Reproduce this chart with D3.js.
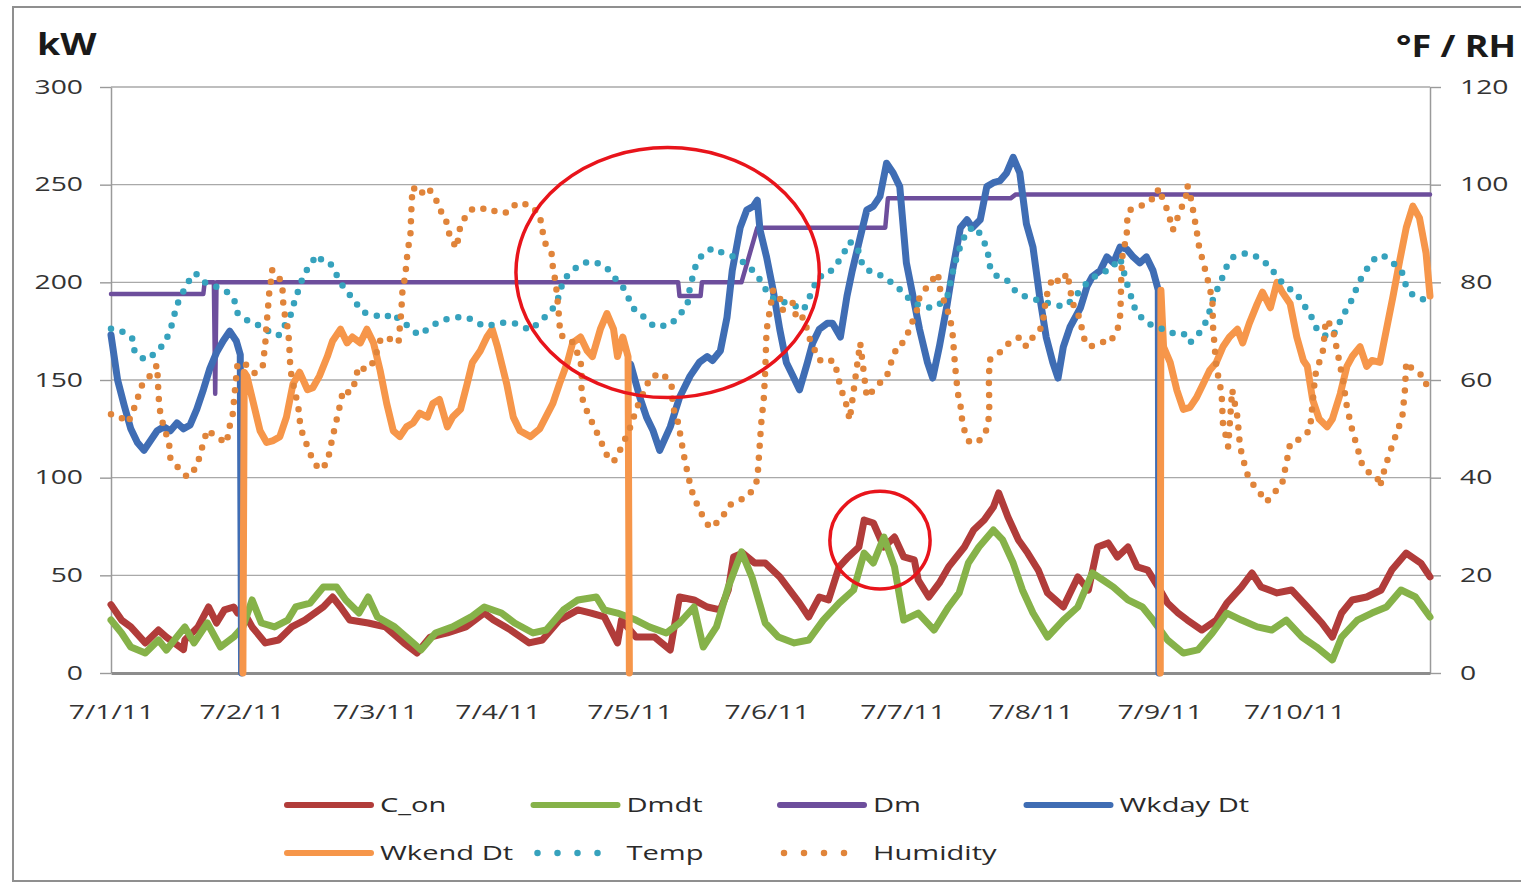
<!DOCTYPE html>
<html><head><meta charset="utf-8">
<script src="https://cdn.jsdelivr.net/npm/d3@7"></script>
<style>body{margin:0;background:#fff;overflow:hidden}text{font-family:"Open Sans",sans-serif}</style>
</head><body><svg id="c" width="1521" height="885"></svg>
<script>
// ---------- data ----------
const dayLabels = ["7/1/11","7/2/11","7/3/11","7/4/11","7/5/11","7/6/11","7/7/11","7/8/11","7/9/11","7/10/11"];
const dayIndex  = [0, 99, 200, 293, 393, 497, 600, 697, 795, 897];   // sample index where each day's label sits
const leftTicks  = [0, 50, 100, 150, 200, 250, 300];
const rightTicks = [0, 20, 40, 60, 80, 100, 120];
const seriesNames = ["C_on","Dmdt","Dm","Wkday Dt","Wkend Dt","Temp","Humidity"];

// [sample index, kW]
const cOn = [[0,35],[8,27.1],[15,23.6],[26,15.4],[36,22],[42,18.4],[55,12],[56,16.9],[66,23.6],[74,33.8],[80,25.6],[86,32.3],[93,33.8],[96,30.7],[100,32],
[107,23.6],[117,15.4],[127,16.9],[137,23.6],[147,27.1],[161,33.8],[168,38.9],[174,33.8],[181,27.1],[195,25.6],[208,23.6],[222,15.4],[232,10.2],[242,18.4],
[255,20.5],[269,23.6],[283,30.7],[290,27.1],[303,22],[317,15.4],[327,16.9],[340,27.1],[354,32.3],[364,30.7],[374,28.7],[384,15.4],[387,27.1],[398,18.4],
[412,18.4],[424,11.8],[431,38.9],[442,37.4],[452,33.8],[462,32.3],[468,42.5],[472,59.4],[479,61.4],[488,56.3],[496,56.3],[507,49.2],[522,35.8],[529,28.7],
[537,38.9],[544,37.4],[552,54.3],[559,59.4],[567,64.5],[571,78.3],[578,76.8],[586,64.5],[594,69.6],[601,59.4],[609,57.9],[612,47.6],[620,38.9],[628,46.1],
[635,54.3],[647,64.5],[654,73.2],[662,78.3],[669,85],[673,92.2],[680,79.9],[688,68.1],[695,61.4],[703,52.7],[710,41],[722,33.8],[733,49.2],[741,42.5],
[748,64.5],[756,66.6],[763,59.4],[771,64.5],[778,54.3],[786,52.7],[794,44],[801,35.8],[809,30.7],[816,27.1],[827,22],[838,27.1],[846,35.8],[857,44],
[865,51.2],[872,44],[884,41],[895,42.5],[907,33.8],[918,25.6],[926,18.4],[933,30.7],[941,37.4],[952,38.9],[963,42.5],[971,52.7],[982,61.4],[993,56.3],[1000,49.2]];

const dmdt = [[0,27.1],[8,20.5],[15,13.3],[26,10.2],[36,16.9],[42,11.8],[56,23.6],[63,15.4],[73,25.6],[83,13.3],[93,18.4],[100,23.6],[107,37.4],[114,25.6],
[124,23.6],[134,27.1],[140,33.8],[151,35.8],[161,44],[171,44],[178,37.4],[188,30.7],[195,38.9],[202,28.7],[215,23.6],[229,15.4],[235,11.8],[246,20.5],
[259,23.6],[273,28.7],[283,33.8],[296,30.7],[306,25.6],[320,20.5],[330,22],[343,32.3],[354,37.4],[368,38.9],[374,32.3],[384,30.7],[398,27.1],[408,23.6],
[421,20.5],[431,25.6],[442,33.8],[449,13.3],[459,23.6],[468,44],[478,62],[486,49],[496,25.6],[506,18.4],[518,15.4],[529,16.9],[540,27.1],[552,35.8],
[563,42.5],[571,61.4],[578,56.3],[586,69.6],[594,54.3],[601,27.1],[612,30.7],[624,22],[635,33.8],[643,41],[650,56.3],[658,64.5],[669,73.2],[676,68.1],
[684,56.3],[691,42.5],[699,30.7],[710,18.4],[722,27.1],[733,33.8],[744,51.2],[752,47.6],[760,44],[771,37.4],[782,33.8],[790,27.1],[801,16.9],[813,10.2],
[824,11.8],[835,20.5],[846,30.7],[857,27.1],[869,23.6],[880,22],[891,27.1],[903,18.4],[914,13.3],[926,6.7],[933,18.4],[945,27.1],[956,30.7],[967,33.8],
[978,42.5],[989,38.9],[1000,28.7]];

const dm = [[0,194],[70,194],[71,200],[78,200],[79,143],[80,200],[430,200],[431,193],[447,193],[448,200],[478,200],[490,228],[587,228],[589,243],[682,243],[686,245],[1000,245]];

// null = no data (gap)
const wkdayDt = [[0,173],[5,150],[10,137],[15,125],[20,118],[25,114],[30,119],[35,124],[40,126],[45,124],[50,128],[55,125],[60,127],[65,135],[70,145],
[75,156],[80,164],[85,170],[90,175],[95,170],[98,163],[99,0], null,
[394,158],[401,141],[406,131],[411,124],[416,114],[424,126],[431,141],[439,152],[446,159],[452,162],[456,160],[462,165],[467,182],[471,206],[477,228],
[482,237],[487,239],[490,242],[492,227],[497,213],[502,196],[507,176],[512,159],[517,152],[522,145],[528,159],[532,169],[537,176],[543,179],[547,179],
[553,172],[558,193],[562,206],[568,223],[573,237],[578,239],[583,244],[588,261],[593,256],[598,249],[603,210],[608,193],[613,176],[619,159],[623,151],
[628,167],[634,189],[638,206],[644,228],[649,232],[653,228],[659,232],[664,249],[669,251],[674,252],[679,256],[684,264],[689,256],[694,230],[699,218],
[704,193],[709,172],[714,159],[718,151],[722,167],[727,177],[735,187],[740,198],[744,203],[750,206],[755,213],[760,210],[765,218],[770,217],[775,213],
[780,210],[785,213],[790,206],[794,196],[794.5,0]];

const wkendDt = [[100,0],[101,154],[103,152],[108,138],[113,124],[118,118],[123,119],[128,121],[133,131],[138,148],[143,154],[149,145],[153,146],[158,152],
[164,162],[168,170],[174,176],[179,169],[183,172],[189,169],[194,176],[199,169],[204,155],[209,138],[214,124],[219,121],[224,126],[229,128],[234,133],
[240,131],[244,138],[249,140],[255,126],[259,131],[265,135],[270,148],[274,159],[280,165],[285,172],[289,176],[293,167],[300,148],[305,131],[310,124],
[318,121],[325,125],[335,138],[340,148],[346,159],[350,169],[356,172],[361,165],[365,162],[371,176],[376,184],[381,176],[384,162],[388,172],[392,162],[393,0], null,
[795.5,0],[796,196],[798,167],[803,159],[808,145],[813,135],[818,136],[823,141],[828,148],[833,155],[838,159],[843,167],[848,172],[854,176],[858,169],
[863,179],[869,189],[873,195],[879,187],[884,200],[888,195],[894,189],[899,172],[904,160],[907,157],[911,140],[916,130],[922,126],[926,130],[932,143],
[937,157],[941,162],[947,167],[952,157],[956,160],[962,159],[967,176],[972,193],[977,211],[982,228],[987,239],[992,233],[997,215],[1000,193]];

// [sample index, °F]
const temp = [[0,70.5],[7,70.2],[16,68.6],[18,65.7],[26,64.1],[35,65.7],[41,67.8],[45,70.2],[50,75.4],[58,79.9],[64,81.9],[70,80.1],[77,79.5],[88,78],[94,76],
[96,73.7],[105,71.9],[115,70.9],[123,69.2],[128,69.2],[132,71.3],[137,73.7],[139,76],[143,79.1],[146,81.5],[151,83.6],[156,85.6],[161,84.2],[166,84],
[170,82.1],[174,79.9],[180,77.8],[191,73.9],[199,73.3],[208,72.7],[213,73.7],[219,72.3],[227,70.7],[233,69.2],[242,70.7],[248,71.9],[257,72.7],[265,72.9],
[270,72.9],[277,71.7],[285,70.9],[293,71.7],[305,71.7],[318,70.2],[325,71.9],[333,73.9],[338,75.8],[343,80.5],[350,82.5],[358,84],[367,84.2],[376,82.9],
[382,80.9],[388,79.1],[397,74.3],[405,72.7],[412,70.9],[424,71.3],[431,73.3],[437,75.4],[439,79.1],[443,83.1],[448,85.6],[456,87],[464,86],[475,85],
[482,83.6],[490,81.5],[494,79.5],[500,77],[505,76.4],[512,75.8],[520,75],[525,74.3],[531,77.8],[536,81.1],[543,81.5],[550,83.6],[556,86.2],[560,88.3],
[566,87.2],[568,84.6],[573,82.5],[579,82.1],[587,80.9],[596,79.1],[608,75.8],[619,74.8],[626,75],[634,77],[638,81.9],[642,86],[649,90.7],[656,91.3],
[661,88.7],[665,86.6],[665,84],[670,81.5],[679,80.5],[687,77.8],[694,77],[702,76.4],[710,75.8],[722,75],[729,76.4],[737,79.1],[744,80.9],[750,81.9],
[757,82.5],[765,85],[770,80],[777,74],[785,71.7],[795,70.7],[803,69.6],[813,69.6],[818,67.6],[825,69.6],[831,72.3],[836,77],[841,79.9],[847,84],
[851,85.2],[861,86],[871,85],[879,83.1],[884,81.1],[891,79.1],[899,77.8],[903,75.8],[909,73.7],[913,70.9],[919,69.2],[926,68.8],[930,70.9],[934,73.3],
[939,75.4],[943,78],[949,81.5],[957,84.6],[964,85.6],[972,84],[979,81.9],[982,79.1],[987,77.4],[996,76.4],[1000,76]];

// [sample index, %RH]
const humidity = [[0,53],[5,52.8],[13,51.2],[20,55.9],[22,58.4],[30,61],[35,63.1],[35.5,60],[36,56.9],[37,53.9],[39,51.4],[44,47.1],[45,44],[51,42],[58,40.1],
[65,42.2],[70,47.1],[73,49.8],[80,48.3],[88,47.1],[89,49.8],[92,52.2],[94,58],[96,63.5],[103,63.1],[109,61.4],[115,62.7],[117,67.6],[118,71.7],[119,74.3],
[119.5,77],[121,79.5],[122,82.5],[127,81.5],[130,78.8],[130.5,76],[132,72.9],[134,70.7],[135,67.8],[135.5,65.1],[136,62.1],[138,59.4],[142,54.5],[143,51.8],
[145,49.2],[149,46.3],[153,43.6],[158,41.6],[164,43],[166,45.7],[168,48.3],[171,51.8],[174,55.3],[176,58],[181,57.3],[186,60],[187,62.7],[194,62.1],
[199,63.7],[202,66.2],[203,67.6],[206,68.8],[214,68.2],[218,67.6],[219,70.9],[220,73.7],[220.5,76],[221,78.4],[223,81.1],[224,84],[225,86.6],[227,89.7],
[228,96.9],[229,99.5],[234,97.9],[240,99.5],[246,97.3],[249,94.8],[253,93.8],[257,89.3],[262,87],[265,91.8],[272,94.8],[280,95.4],[287,94.4],[295,94.8],
[300,94.2],[308,96.3],[318,95.8],[325,93.8],[327,90.7],[329,88.1],[334,86],[335,83.1],[337,80.1],[338,77.8],[339,75],[340,71.9],[340.5,69.2],[349,68.2],
[356,64.1],[357,60.4],[356.5,56.9],[359,54.9],[362,52.8],[365,51.2],[371,47.7],[376,44.6],[381,43.2],[386,45.7],[393,49.8],[399,54.5],[409,60.6],[418,61.4],
[425,59],[426,54.5],[430,51.2],[435,43.6],[440,37.5],[446,33.4],[454,29.7],[462,31.3],[469,34.4],[477,35.4],[484,36.5],[490,39.5],[493,51.2],[495,56.5],
[496,62],[497,70.2],[502,78.4],[507,77],[509,74.3],[517,75.8],[520,72.3],[525,72.9],[530,68.2],[537,64.1],[543,63.5],[547,64.1],[550,62.1],[553,58.6],
[558,54.5],[560,51.8],[568,67.6],[573,56.5],[583,59.4],[588,60.6],[592,64.1],[596,66.8],[598,66.8],[603,68.8],[611,74.3],[613,77],[621,79.9],[627,81.9],
[628,79.1],[632,75.8],[636,72.9],[638,69.6],[639,66.2],[640,62.7],[641,60],[642,57.3],[644,54.9],[645,52.4],[646,50.4],[651,47.1],[659,47.7],[665,50.4],
[666,55.3],[665.5,58.4],[666,64.1],[674,65.7],[681,67.6],[689,68.8],[694,66.8],[699,68.8],[706,70.9],[707,72.9],[709,77],[714,81.1],[720,79.9],[725,81.9],
[729,75.8],[735,72.3],[737,68.8],[742,66.8],[751,67.8],[757,67.6],[763,70.2],[765,72.9],[765.5,75.8],[766,81.9],[767,86],[770,89.3],[770.5,92.8],[772,94.8],
[780,95.4],[785,96.5],[793,97.5],[794,99.3],[800,95.4],[803,92.8],[805,90.7],[810,94.2],[815,97.5],[816,99.9],[819,96.9],[823,90.7],[825,87.2],[831,81.1],
[835,76.4],[835.5,70.9],[838,62.7],[842,57.3],[843,51.2],[847,46.3],[850,58],[854,52.4],[856,46.3],[861,41],[865,38.9],[871,36.9],[876,35],[882,36.9],
[888,38.9],[892,44.2],[894,47.1],[903,48.1],[909,49.8],[911,55.3],[913,61],[919,66.2],[921,72.3],[926,70.9],[930,65.5],[934,60],[937,54.5],[941,49.8],
[947,44.2],[949,42.2],[954,41],[960,40.1],[962,38.1],[966,42.2],[972,47.1],[979,52.4],[981,58],[982,63.7],[987,62.1],[996,60.6],[998,58]];

// annotation ellipses: [idx from, idx to, kW top, kW bottom]
const circles = [[307,537,269,141],[545,621,93,43]];

// ---------- drawing ----------
const plot = {left:111, right:1430, top:87, bottom:673};
const svg = d3.select("#c");
const SX = 1.45; // horizontal stretch of the original text

const x  = d3.scaleLinear().domain([0,1000]).range([plot.left, plot.right]);
const yL = d3.scaleLinear().domain([0,300]).range([plot.bottom, plot.top]);
const yR = d3.scaleLinear().domain([0,120]).range([plot.bottom, plot.top]);

const colors = {"C_on":"#b13c3a","Dmdt":"#86b249","Dm":"#6d4e9c","Wkday Dt":"#3f6db4","Wkend Dt":"#f6964a","Temp":"#36a2bd","Humidity":"#e0843a"};

// frame
svg.append("rect").attr("x",13).attr("y",7).attr("width",1540).attr("height",874)
  .attr("fill","none").attr("stroke","#8f8f8f").attr("stroke-width",2);

// gridlines
svg.append("g").selectAll("line").data(leftTicks.filter(d=>d>0)).join("line")
  .attr("x1",plot.left).attr("x2",plot.right).attr("y1",d=>yL(d)).attr("y2",d=>yL(d))
  .attr("stroke","#a9a9a9").attr("stroke-width",1.4);

function styleAxisText(g, size, stretch){
  g.selectAll("text").attr("font-size",size).attr("fill","#333").attr("font-family","Open Sans, sans-serif")
    .each(function(){ const t=d3.select(this); t.attr("x", (+t.attr("x")||0)/stretch).attr("transform",`scale(${stretch},1)`); });
}

const gL = svg.append("g").attr("transform",`translate(${plot.left},0)`)
  .call(d3.axisLeft(yL).tickValues(leftTicks).tickSize(11).tickSizeOuter(0).tickPadding(17));
gL.select(".domain").attr("stroke","#9a9a9a").attr("stroke-width",1.5);
gL.selectAll(".tick line").attr("stroke","#9a9a9a").attr("stroke-width",1.4);
styleAxisText(gL, 19.5, SX);

const gR = svg.append("g").attr("transform",`translate(${plot.right},0)`)
  .call(d3.axisRight(yR).tickValues(rightTicks).tickSize(11).tickSizeOuter(0).tickPadding(19));
gR.select(".domain").attr("stroke","#9a9a9a").attr("stroke-width",1.5);
gR.selectAll(".tick line").attr("stroke","#9a9a9a").attr("stroke-width",1.4);
styleAxisText(gR, 19.5, SX);

const gB = svg.append("g").attr("transform",`translate(0,${plot.bottom})`)
  .call(d3.axisBottom(x).tickValues(dayIndex).tickFormat((d,i)=>dayLabels[i]).tickSize(0).tickSizeOuter(0).tickPadding(32));
gB.select(".domain").attr("stroke","#8c8c8c").attr("stroke-width",3);
styleAxisText(gB, 19.5, SX);

// axis titles
function label(x0,y0,s,o={}){
  return svg.append("text").attr("transform",`translate(${x0},${y0}) scale(${o.sx||SX},1)`)
    .attr("text-anchor",o.anchor||"start").attr("font-size",o.size||20).attr("font-weight",o.weight||400)
    .attr("fill",o.fill||"#333").text(s);
}
label(37,55,"kW",{size:30,weight:700,sx:1.25,fill:"#1a1a1a"});
label(1516,57,"°F / RH",{size:30,weight:700,sx:1.2,anchor:"end",fill:"#1a1a1a"});

// series
const lineL = d3.line().defined(d=>d!==null).x(d=>x(d[0])).y(d=>yL(d[1]));
const lineR = d3.line().defined(d=>d!==null).x(d=>x(d[0])).y(d=>yR(d[1]));
const series = [
  {name:"C_on", data:cOn, gen:lineL, w:7},
  {name:"Dmdt", data:dmdt, gen:lineL, w:7},
  {name:"Dm", data:dm, gen:lineL, w:4.5},
  {name:"Wkday Dt", data:wkdayDt, gen:lineL, w:7},
  {name:"Wkend Dt", data:wkendDt, gen:lineL, w:7},
  {name:"Temp", data:temp, gen:lineR, w:6.5, dots:true},
  {name:"Humidity", data:humidity, gen:lineR, w:6.5, dots:true}
];
series.forEach(s=>{
  const p = svg.append("path").attr("d",s.gen(s.data)).attr("fill","none")
    .attr("stroke",colors[s.name]).attr("stroke-width",s.w)
    .attr("stroke-linejoin","round").attr("stroke-linecap","round");
  if(s.dots) p.attr("stroke-dasharray","0 12");
});

// annotation ellipses
svg.append("g").selectAll("ellipse").data(circles).join("ellipse")
  .attr("cx",d=>(x(d[0])+x(d[1]))/2).attr("cy",d=>(yL(d[2])+yL(d[3]))/2)
  .attr("rx",d=>(x(d[1])-x(d[0]))/2).attr("ry",d=>(yL(d[3])-yL(d[2]))/2)
  .attr("fill","none").attr("stroke","#e8141b").attr("stroke-width",3.5);

// legend
const lg = svg.append("g");
series.forEach((s,i)=>{
  const col=i%4, row=Math.floor(i/4);
  const lx = 287 + col*246.5, ly = 805 + row*48;
  const l = lg.append("line").attr("x1",lx).attr("x2",lx+84).attr("y1",ly).attr("y2",ly)
    .attr("stroke",colors[s.name]).attr("stroke-width",s.dots?6.5:6).attr("stroke-linecap","round");
  if(s.dots) l.attr("x1",lx+4).attr("stroke-dasharray","0 20");
  label(lx+93, ly+7, s.name, {size:20.5, sx:1.42, fill:"#2a2a2a"});
});
</script>
</body></html>
